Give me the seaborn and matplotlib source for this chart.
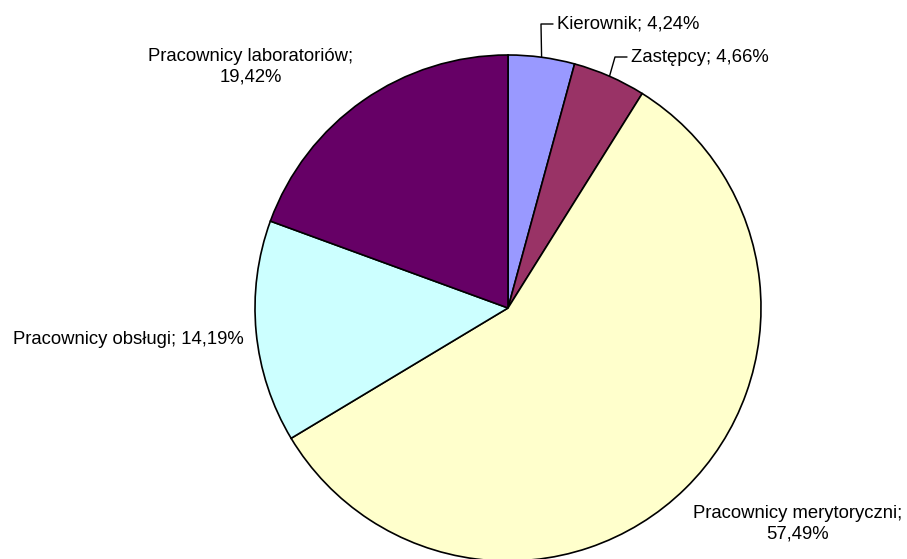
import numpy as np
import matplotlib
matplotlib.use('Agg')
import matplotlib.pyplot as plt
import seaborn as sns

# data
categories = ['Kierownik', 'Zastępcy', 'Pracownicy merytoryczni',
              'Pracownicy obsługi', 'Pracownicy laboratoriów']
shares = [4.24, 4.66, 57.49, 14.19, 19.42]
colors = ['#9999FF', '#993366', '#FFFFCC', '#CCFFFF', '#660066']

sns.set_style('white')
plt.rcParams['font.family'] = ['Liberation Sans', 'DejaVu Sans']

W, H = 907, 559
cx, cy, R = 508, 308, 253   # pie centre / radius in pixels

fig = plt.figure(figsize=(W / 100, H / 100), dpi=100)
ax = fig.add_axes([(cx - R) / W, (H - cy - R) / H, 2 * R / W, 2 * R / H])

wedges, _ = ax.pie(shares, colors=colors, startangle=90, counterclock=False,
                   radius=1, wedgeprops=dict(edgecolor='black', linewidth=1.2))
ax.set_xlim(-1, 1)
ax.set_ylim(-1, 1)
ax.set_aspect('equal')
ax.axis('off')


def px(x, y):
    # pixel -> data coordinates
    return (x - cx) / R, (cy - y) / R


def fmt(v):
    return f'{v:.2f}'.replace('.', ',') + '%'


# label layout (pixels): text anchor, alignment, line break, leader elbow
layout = [
    dict(xy=(557, 24), ha='left', br=False, elbow=(541, 24)),
    dict(xy=(631, 57), ha='left', br=False, elbow=(615, 57)),
    dict(xy=(798, 524), ha='center', br=True, elbow=None),
    dict(xy=(244, 340), ha='right', br=False, elbow=None),
    dict(xy=(251, 67), ha='center', br=True, elbow=None),
]

for w, name, v, lay in zip(wedges, categories, shares, layout):
    sep = '\n' if lay['br'] else ' '
    tx, ty = px(*lay['xy'])
    ax.text(tx, ty, f'{name};{sep}{fmt(v)}', ha=lay['ha'], va='center',
            fontsize=13.3, color='black', linespacing=1.25,
            multialignment='center')
    if lay['elbow'] is not None:
        mid = np.deg2rad((w.theta1 + w.theta2) / 2)
        ex, ey = px(*lay['elbow'])
        ax.plot([np.cos(mid), ex, tx - 4 / R], [np.sin(mid), ey, ey],
                color='black', linewidth=1, clip_on=False)

fig.savefig('out.png', dpi=100, facecolor='white')
